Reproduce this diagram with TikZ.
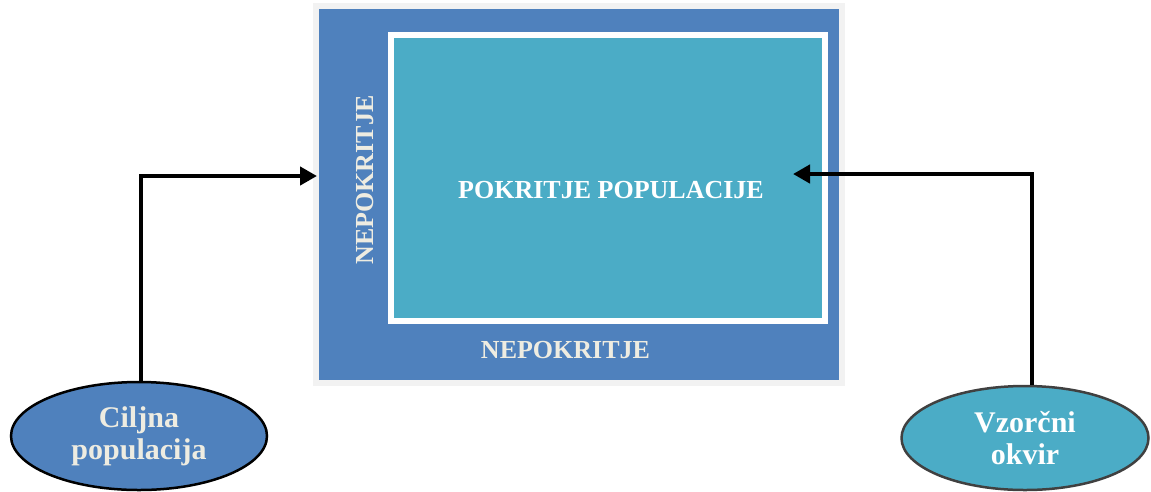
\documentclass[tikz,border=0pt]{standalone}
\usepackage{fontspec}
\setmainfont{Liberation Serif}
\usetikzlibrary{shapes.geometric,arrows.meta}

\definecolor{modra}{HTML}{4F81BD}
\definecolor{turkizna}{HTML}{4BACC6}
\definecolor{bez}{HTML}{EEECE1}
\definecolor{siva}{HTML}{F2F2F2}
\definecolor{temnosiva}{HTML}{404040}

\tikzset{
  okvir/.style={rectangle, fill=modra, draw=siva, line width=6pt, outer sep=0pt, inner sep=0pt},
  pokritje/.style={rectangle, fill=turkizna, draw=white, line width=6pt, outer sep=0pt, inner sep=0pt},
  napis/.style={text=bez, font=\bfseries\fontsize{26}{30}\selectfont},
  elipsa/.style={ellipse, line width=2.5pt, inner sep=0pt, align=center,
    font=\bfseries\fontsize{30}{32}\selectfont},
  veza/.style={line width=4.5pt, -{Triangle[length=17pt,width=18pt]}}
}

\begin{document}
\begin{tikzpicture}[x=1pt,y=-1pt]
                            \useasboundingbox (0,0) rectangle (1151,491);
                            % Boxes and labels:
                            \node[okvir, minimum width=526pt, minimum height=377pt] (zunanji) at (579,194.5){};
                            \node[pokritje, minimum width=434pt, minimum height=286pt] (notranji) at (608,178){};
                            \node[napis, rotate=90] (nepokL) at (365,180){NEPOKRITJE};
                            \node[napis] (nepokS) at (565.5,350){NEPOKRITJE};
                            \node[napis, text=white] (pokPop) at (611,190){POKRITJE POPULACIJE};
                            % Ellipses:
                            \node[elipsa, fill=modra, draw=black, text=bez, minimum width=256pt, minimum height=108pt] (cilj) at (139,436){Ciljna\\populacija};
                            \node[elipsa, fill=turkizna, draw=temnosiva, text=white, minimum width=247pt, minimum height=104pt] (vzorec) at (1025,438){Vzorčni\\okvir};
                            % Connectors:
                            \coordinate (vhodL) at (317,176);
                            \coordinate (vhodD) at (793,174);
                            \draw[veza] (cilj.north -| 141,0) |- (vhodL);
                            \draw[veza] (vzorec.north -| 1032,0) |- (vhodD);
                        \end{tikzpicture}
\end{document}
